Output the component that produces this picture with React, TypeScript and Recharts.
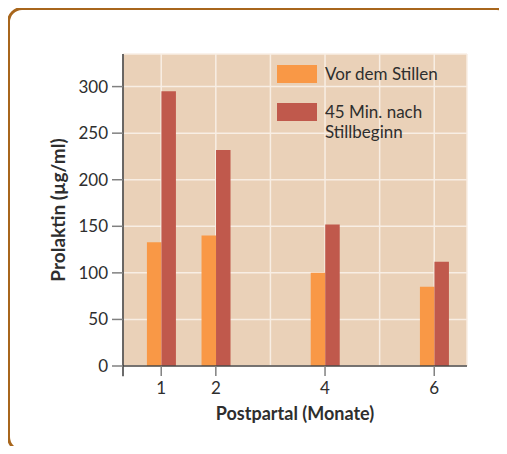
import {
  Bar,
  BarChart,
  CartesianGrid,
  Legend,
  ReferenceLine,
  XAxis,
  YAxis,
} from 'recharts'

// Prolaktin (µg/ml) vor dem Stillen und 45 Min. nach Stillbeginn
const monate = [1, 2, 4, 6]
const vorDemStillen = [133, 140, 100, 85]
const nachStillbeginn = [295, 232, 152, 112]

const xTicks = [1, 2, 4, 6]
const extraGridMonate = [3, 5]
const yTicks = [0, 50, 100, 150, 200, 250, 300]

const ORANGE = '#f99846'
const ROT = '#c0594c'
const BG = '#ead1b8'
const GRID = '#f8eee4'
const TEXT = '#2e2e2e'
const FONT = 'Lato, "Open Sans", sans-serif'

const data = monate.map((m, i) => ({
  monat: m,
  vor: vorDemStillen[i],
  nach: nachStillbeginn[i],
}))

function LegendBox() {
  const row = { display: 'flex', alignItems: 'flex-start', gap: 8 } as const
  const swatch = { width: 40, height: 18, flex: 'none' } as const
  return (
    <div style={{ fontFamily: FONT, fontSize: 17, color: TEXT, lineHeight: '20px' }}>
      <div style={row}>
        <div style={{ ...swatch, background: ORANGE }} />
        <span style={{ marginTop: -1 }}>Vor dem Stillen</span>
      </div>
      <div style={{ ...row, marginTop: 19 }}>
        <div style={{ ...swatch, background: ROT }} />
        <span style={{ marginTop: -1 }}>
          45 Min. nach
          <br />
          Stillbeginn
        </span>
      </div>
    </div>
  )
}

function YLabel({ viewBox }: { viewBox?: { x: number; y: number; width: number; height: number } }) {
  if (!viewBox) return null
  const cx = viewBox.x + 37
  const cy = viewBox.y + viewBox.height / 2
  return (
    <text
      x={cx}
      y={cy}
      transform={`rotate(-90, ${cx}, ${cy})`}
      textAnchor="middle"
      dominantBaseline="central"
      fontFamily={FONT}
      fontSize={19}
      fontWeight={700}
      fill={TEXT}
    >
      Prolaktin (µg/ml)
    </text>
  )
}

export default function App() {
  return (
    <div
      style={{
        margin: -8,
        width: 507,
        height: 454,
        position: 'relative',
        overflow: 'hidden',
        background: '#fff',
      }}
    >
      <div
        style={{
          position: 'absolute',
          left: 7,
          top: 7,
          width: 499,
          height: 439,
          border: '3px solid #a8661c',
          borderRadius: 15,
        }}
      />
      <div style={{ position: 'absolute', left: 0, top: 0 }}>
        <BarChart
          width={507}
          height={454}
          data={data}
          margin={{ top: 54, right: 40, left: 20, bottom: 34 }}
          barGap={0}
          barSize={14.5}
        >
          <CartesianGrid fill={BG} stroke={GRID} strokeWidth={1.5} />
          {extraGridMonate.map((m) => (
            <ReferenceLine key={m} x={m} stroke={GRID} strokeWidth={1.5} />
          ))}
          <XAxis
            type="number"
            dataKey="monat"
            domain={[0.3, 6.6]}
            ticks={xTicks}
            allowDataOverflow
            height={54}
            tickSize={10}
            tickMargin={6}
            axisLine={{ stroke: '#4a4a4a', strokeWidth: 1.5 }}
            tickLine={{ stroke: '#808080', strokeWidth: 1.5 }}
            tick={{ fill: TEXT, fontSize: 17, fontFamily: FONT }}
            label={{
              value: 'Postpartal (Monate)',
              position: 'insideBottom',
              offset: 0,
              style: { fill: TEXT, fontSize: 18, fontWeight: 700, fontFamily: FONT },
            }}
          />
          <YAxis
            type="number"
            domain={[0, 335]}
            ticks={yTicks}
            width={103}
            tickSize={11}
            tickMargin={4}
            axisLine={{ stroke: '#3a3a3a', strokeWidth: 1.5 }}
            tickLine={{ stroke: '#808080', strokeWidth: 1.5 }}
            tick={{ fill: TEXT, fontSize: 17, fontFamily: FONT }}
            label={{ content: YLabel }}
          />
          <ReferenceLine
            segment={[
              { x: 0.3, y: 0 },
              { x: 0.3, y: -11 },
            ]}
            stroke="#3a3a3a"
            strokeWidth={1.5}
            ifOverflow="visible"
          />
          <Legend
            content={<LegendBox />}
            layout="vertical"
            verticalAlign="middle"
            align="center"
            wrapperStyle={{ position: 'absolute', left: 277, top: 65, width: 180 }}
          />
          <Bar dataKey="vor" name="Vor dem Stillen" fill={ORANGE} isAnimationActive={false} />
          <Bar dataKey="nach" name="45 Min. nach Stillbeginn" fill={ROT} isAnimationActive={false} />
        </BarChart>
      </div>
    </div>
  )
}
